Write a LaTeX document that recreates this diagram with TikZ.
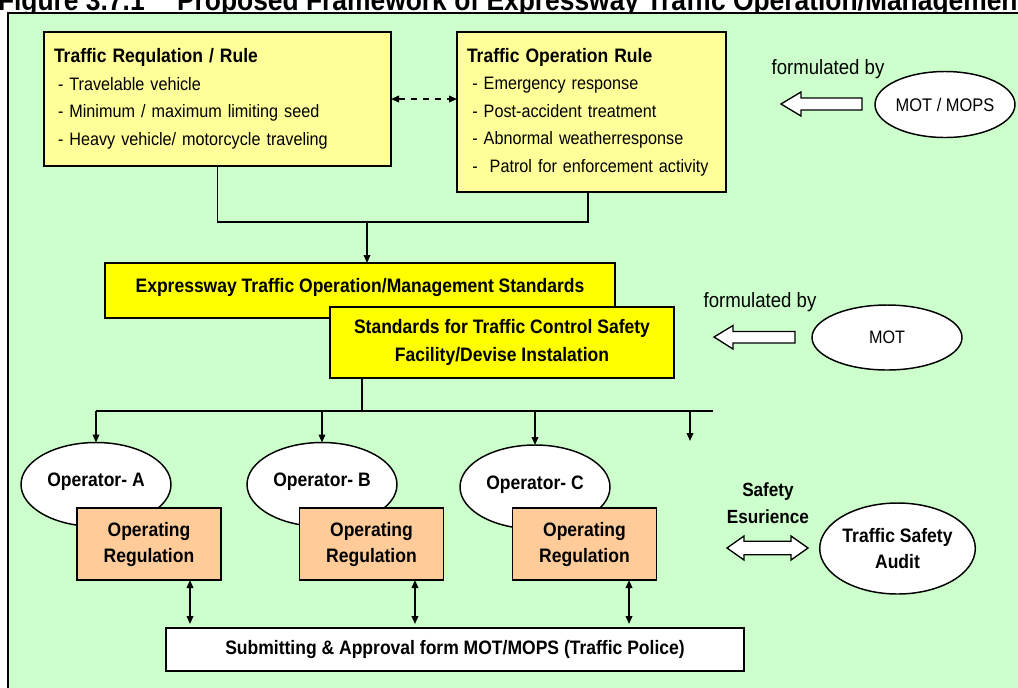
\documentclass[tikz,border=0pt]{standalone}
\usepackage{fontspec}
\setmainfont{Liberation Sans}[FakeStretch=0.9]
\usetikzlibrary{arrows.meta,shapes.geometric}
\definecolor{bggreen}{HTML}{CCFFCC}
\definecolor{paleyellow}{HTML}{FFFF99}
\definecolor{brightyellow}{HTML}{FFFF00}
\definecolor{peach}{HTML}{FFCC99}
\begin{document}
\begin{tikzpicture}[x=0.75pt,y=-0.75pt,
  every node/.style={inner sep=0pt,outer sep=0pt},
  body/.style={font=\fontsize{13.5}{20.6}\selectfont},
  heavy/.style={font=\fontsize{14.6}{20}\selectfont\bfseries},
  rulebox/.style={draw,line width=1.1pt,fill=paleyellow,align=left,body},
  stdbox/.style={draw,line width=1.1pt,fill=brightyellow,align=center,
    font=\fontsize{14.6}{21}\selectfont\bfseries},
  regbox/.style={draw,line width=1.1pt,fill=peach,align=center,
    minimum width=108pt,minimum height=54pt,
    font=\fontsize{14.6}{19.5}\selectfont\bfseries},
  oval/.style={ellipse,draw,line width=1.1pt,fill=white},
  opoval/.style={oval,minimum width=112.5pt,minimum height=63pt,heavy},
  link/.style={line width=1.1pt},
  tip/.tip={Triangle[length=6pt,width=5pt]},
  arr/.style={link,-tip},
  darr/.style={link,tip-tip,shorten >=3pt},
  blockarrow/.style={draw,line width=1pt,fill=white,line join=miter},
  caption/.style={anchor=base west,font=\fontsize{22}{24}\selectfont\bfseries}
]
\useasboundingbox (0,0) rectangle (1018,687);
\clip (0,0) rectangle (1018,687);

% caption and framed panel
\node[caption] (fignum) at (-2,10) {Figure 3.7.1};
\node[caption] (figtitle) at (177,10) {Proposed Framework of Expressway Traffic Operation/Management};
\draw[fill=bggreen,line width=1.1pt] (8,13) rectangle (1060,720);

% rule boxes
\node[rulebox,anchor=north west,minimum width=260.25pt,minimum height=100.5pt,
  text width=245.25pt] (trr) at (44,32)
  {{\fontsize{14.6}{20}\selectfont\bfseries Traffic Requlation / Rule}\\
   \hspace*{3pt}- Travelable vehicle\\
   \hspace*{3pt}- Minimum / maximum limiting seed\\
   \hspace*{3pt}- Heavy vehicle/ motorcycle traveling};
\node[rulebox,anchor=north west,minimum width=201.75pt,minimum height=120pt,
  text width=186.75pt] (tor) at (457,32)
  {{\fontsize{14.6}{20}\selectfont\bfseries Traffic Operation Rule}\\
   \hspace*{4pt}- Emergency response\\
   \hspace*{4pt}- Post-accident treatment\\
   \hspace*{4pt}- Abnormal weatherresponse\\
   \hspace*{4pt}-\ \ Patrol for enforcement activity};
\draw[link,dash pattern=on 5pt off 4pt,tip-tip] (trr.east) -- (trr.east -| tor.west);

% regulators
\node[oval,minimum width=105pt,minimum height=49.5pt,
  font=\fontsize{13.7}{16}\selectfont] (mops) at (945,104.5) {MOT / MOPS};
\node[font=\fontsize{15.5}{18}\selectfont] (fby1) at (828,69) {formulated by};
\draw[blockarrow] (781,104) -- (801,92) -- (801,98) -- (862,98) -- (862,110)
  -- (801,110) -- (801,116) -- cycle;

\node[oval,minimum width=112.5pt,minimum height=48.75pt,
  font=\fontsize{13.5}{16}\selectfont] (mot) at (887,337.5) {MOT};
\node[font=\fontsize{15.5}{18}\selectfont] (fby2) at (760,302) {formulated by};
\draw[blockarrow] (714,337) -- (733,325.5) -- (733,331.5) -- (795,331.5)
  -- (795,343) -- (733,343) -- (733,349) -- cycle;

% joining the two rule boxes
\coordinate (merge) at (588,222);
\coordinate (drop) at (367,222);
\draw[link] (trr.south) |- (merge) -- (merge |- tor.south);

% standards
\node[stdbox,anchor=north west,minimum width=382.5pt,minimum height=41.25pt] (eto)
  at (105,263) {\raisebox{8pt}{Expressway Traffic Operation/Management Standards}};
\node[stdbox,anchor=north west,minimum width=258pt,minimum height=53.25pt] (tcs)
  at (330,307) {Standards for Traffic Control Safety\\Facility/Devise Instalation};
\draw[arr] (drop) -- (drop |- eto.north);

% operators
\node[opoval] (opa) at (96,484.5) {\raisebox{7pt}{Operator- A}};
\node[opoval] (opb) at (322,484.5) {\raisebox{7pt}{Operator- B}};
\node[opoval] (opc) at (535,487) {\raisebox{7pt}{Operator- C}};
\node[regbox] (rga) at (149,544) {Operating\\Regulation};
\node[regbox] (rgb) at (371.5,544) {Operating\\Regulation};
\node[regbox] (rgc) at (584.5,544) {Operating\\Regulation};

% distribution bus
\coordinate (busL) at (96,411);
\coordinate (busR) at (713,411);
\coordinate (busT) at (362,411);
\coordinate (spare) at (690,441);
\draw[link] (busT |- tcs.south) -- (busT);
\draw[link] (busL) -- (busR);
\draw[arr] (busL) -- (opa.north);
\draw[arr] (opb.north |- busL) -- (opb.north);
\draw[arr] (opc.north |- busL) -- (opc.north);
\draw[arr] (spare |- busL) -- (spare);

% approval
\node[draw,line width=1.1pt,fill=white,minimum width=433.5pt,minimum height=32.25pt,
  heavy] (sub) at (455,649.5) {Submitting \& Approval form MOT/MOPS (Traffic Police)};
\draw[darr] ([xshift=30.75pt]rga.south) -- ([xshift=30.75pt]rga.south |- sub.north);
\draw[darr] ([xshift=32.6pt]rgb.south) -- ([xshift=32.6pt]rgb.south |- sub.north);
\draw[darr] ([xshift=33.4pt]rgc.south) -- ([xshift=33.4pt]rgc.south |- sub.north);

% safety audit
\node[oval,minimum width=111.75pt,minimum height=68.25pt,align=center,
  font=\fontsize{14.6}{20}\selectfont\bfseries] (tsa) at (897.5,548.5)
  {Traffic Safety\\Audit};
\node[align=center,font=\fontsize{14.3}{20}\selectfont\bfseries] (esu)
  at (768,503) {Safety\\Esurience};
\draw[blockarrow] (727,548) -- (744,536) -- (744,541.3) -- (791,541.3) -- (791,536)
  -- (808,548) -- (791,560) -- (791,554.7) -- (744,554.7) -- (744,560) -- cycle;
\end{tikzpicture}
\end{document}
